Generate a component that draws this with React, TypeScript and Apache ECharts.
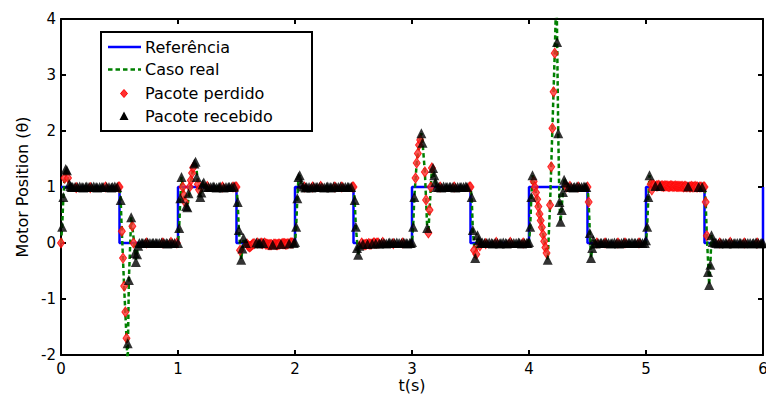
import React, { useEffect, useRef } from "react";
import * as echarts from "echarts";

// Reference (square wave), held until next change time
const refT = [0, 0.5, 1, 1.5, 2, 2.5, 3, 3.5, 4, 4.5, 5, 5.5, 6];
const refY = [1, 0, 1, 0, 1, 0, 1, 0, 1, 0, 1, 0, 1];

// Caso real (green dashed) breakpoints
const casoRealT = [
  0, 0.01, 0.02, 0.03, 0.04, 0.06, 0.08, 0.1, 0.5,
  0.51, 0.52, 0.54, 0.56, 0.57, 0.58, 0.6, 0.62, 0.64, 0.66, 0.68, 1.0,
  1.01, 1.02, 1.03, 1.05, 1.08, 1.1, 1.13, 1.15, 1.17, 1.19, 1.21, 1.23, 1.5,
  1.51, 1.52, 1.54, 1.56, 1.58, 2.0,
  2.01, 2.02, 2.03, 2.04, 2.06, 2.5,
  2.51, 2.52, 2.54, 2.56, 2.58, 3.0,
  3.01, 3.02, 3.04, 3.06, 3.08, 3.09, 3.11, 3.13, 3.14, 3.15, 3.17, 3.19, 3.21, 3.5,
  3.51, 3.52, 3.54, 3.56, 3.58, 4.0,
  4.01, 4.02, 4.03, 4.05, 4.1, 4.15, 4.16, 4.18, 4.2, 4.22, 4.235, 4.25, 4.26, 4.27, 4.29, 4.3, 4.32, 4.5,
  4.51, 4.52, 4.53, 4.55, 4.57, 5.0,
  5.01, 5.02, 5.03, 5.05, 5.07, 5.1, 5.5,
  5.51, 5.52, 5.54, 5.55, 5.56, 5.58, 6.0,
];
const casoRealY = [
  0, 0.3, 0.8, 1.15, 1.32, 1.15, 1.02, 1, 1,
  0.77, 0.2, -0.8, -1.7, -2.2, -0.66, 0.46, 0.1, -0.3, -0.05, 0, 0,
  0.27, 0.8, 1.18, 0.85, 0.64, 0.95, 1.35, 1.45, 1.1, 0.82, 1.05, 1, 1,
  0.73, 0.23, -0.3, 0.05, 0, 0,
  0.29, 0.8, 1.18, 1.21, 1, 1,
  0.77, 0.29, -0.21, 0.02, 0, 0,
  0.29, 0.82, 1.43, 1.75, 1.96, 1.8, 1.27, 0.27, 0.18, 0.59, 1.34, 1.2, 1, 1,
  0.82, 0.23, -0.27, 0.1, 0, 0,
  0.29, 0.82, 1.21, 1, 0.4, -0.18, -0.3, 0.68, 2.05, 3.39, 4.6, 1.96, 0.73, 0.38, 0.91, 1.13, 1, 1,
  0.73, 0.18, -0.27, 0.05, 0, 0,
  0.29, 0.82, 1.21, 0.95, 1.03, 1, 1,
  0.73, 0.13, -0.75, -0.39, 0.14, 0, 0,
];

// Packet samples every 0.01 s, one array per half second.
// estado: r = pacote recebido, p = pacote perdido, . = no marker
const amostras0 = [
  0, 0.29, 0.82, 1.16, 1.32, 1.3, 1.16, 1.05, 1.02, 1,
  1, 1.01, 1, 0.99, 1, 1, 1.01, 1, 1, 0.99,
  1, 1, 1.01, 1, 1, 0.99, 1, 1, 1.01, 1,
  1, 0.99, 1, 1, 1.01, 1, 1, 0.99, 1, 1,
  1.01, 1, 1, 0.99, 1, 1, 1.01, 1, 1, 1,
];
const estado0 = "prrprrprrr r.rpr.r.rr .rr.rpr.r. rr.r.rr.pr .r.rr.r.rp";
const amostras1 = [
  1, 0.77, 0.21, -0.27, -0.77, -1.23, -1.7, -1.79, -0.66, -0.1,
  0.46, 0.3, 0, -0.18, -0.34, -0.2, -0.05, 0, 0.01, 0,
  0, -0.01, 0, 0, 0.01, 0, 0, -0.01, 0, 0,
  0.01, 0, 0, -0.01, 0, 0, 0.01, 0, 0, 0,
  0, -0.01, 0, 0, 0.01, 0, 0, 0, -0.01, 0,
];
const estado1 = "prppppprr. rpprrrrr.r r.rpr.r.rr .rr.r.rpr. rr.rpr.r.p";
const amostras2 = [
  0, 0.27, 0.8, 1.18, 1, 0.85, 0.73, 0.66, 0.64, 0.89,
  1, 1.12, 1.25, 1.35, 1.42, 1.45, 1.18, 1.05, 0.95, 0.82,
  0.9, 1.05, 1.08, 1, 1, 1.01, 1, 0.99, 1, 1,
  1.01, 1, 1, 0.99, 1, 1, 1.01, 1, 1, 0.99,
  1, 1, 1.01, 1, 1, 0.99, 1, 1, 1.01, 1,
];
const estado2 = "rrrrppprrr pppprrrppr rrr.rpr.r. rr.r.rr.pr .r.rr.rprp";
const amostras3 = [
  1, 0.73, 0.23, -0.13, -0.3, -0.1, 0.09, 0.02, 0, -0.02,
  -0.05, -0.07, -0.06, -0.04, -0.02, -0.01, 0, 0.01, 0, -0.01,
  0, 0, -0.01, 0, 0, -0.02, -0.02, -0.03, -0.03, -0.03,
  -0.03, -0.03, -0.02, -0.02, -0.03, -0.03, -0.02, -0.02, -0.02, -0.01,
  -0.01, -0.01, -0.02, -0.02, -0.01, -0.01, 0, 0, 0, 0,
];
const estado3 = "prrprrr.rp pppppp.rpr rpprpppppp prpppppprp ppppprpppr";
const amostras4 = [
  0.02, 0.29, 0.8, 1.18, 1.21, 1.05, 1, 1.01, 1, 0.99,
  1, 1.01, 1, 1, 0.99, 1, 1.01, 1, 1, 1,
  0.99, 1, 1.01, 1, 1, 0.99, 1, 1, 1.01, 1,
  1, 0.99, 1, 1.01, 1, 1, 0.99, 1, 1, 1.01,
  1, 1, 0.99, 1, 1.01, 1, 1, 0.99, 1, 1,
];
const estado4 = "rrrrrr.rpr r.r.rpr.rr .rpr.r.rr. rr.rpr.r.r pr.r.rr.rp";
const amostras5 = [
  1, 0.77, 0.29, -0.09, -0.21, -0.05, 0.02, 0, -0.02, -0.03,
  -0.03, -0.02, -0.02, -0.01, -0.02, -0.02, -0.01, 0, 0, -0.01,
  0, 0, -0.01, 0, 0, 0.01, 0, 0, -0.01, 0,
  0, 0.01, 0, 0, -0.01, 0, 0, 0.01, 0, 0,
  -0.01, 0, 0, 0.01, 0, 0, -0.01, 0, 0, 0,
];
const estado5 = "prrrrr.prp pprppprppr ppr.rpr.r. rr.rpr.r.r .rpr.rr.rr";
const amostras6 = [
  0.02, 0.29, 0.82, 1.16, 1.43, 1.6, 1.75, 1.84, 1.96, 1.79,
  1.5, 1.27, 0.77, 0.27, 0.18, 0.59, 1, 1.34, 1.34, 1.21,
  1.09, 1, 1.01, 1, 1, 0.99, 1, 1.01, 1, 1,
  1, 0.99, 1, 1, 1.01, 1, 1, 0.99, 1, 1,
  1.01, 1, 1, 0.99, 1, 1, 1.01, 1, 1, 1,
];
const estado6 = "rrrppppprr .pprpppprr rr.rpr.r.r r.rr.rpr.r .rr.r.rr.p";
const amostras7 = [
  1, 0.82, 0.23, -0.13, -0.27, -0.2, 0.14, 0.05, -0.05, 0,
  0.01, 0, 0, -0.01, 0, 0, 0.01, 0, 0, -0.01,
  0, 0, 0.01, 0, 0, -0.01, 0, 0, 0.01, 0,
  0, -0.01, 0, 0, 0.01, 0, 0, 0, -0.01, 0,
  0, 0.01, 0, 0, -0.01, 0, 0, 0.01, 0, 0,
];
const estado7 = "prrprprrpr r.rpr.r.rr .rpr.rr.r. rr.rpr.r.r .rr.rpr.rr";
const amostras8 = [
  0.02, 0.29, 0.82, 1.21, 1.1, 1, 0.9, 0.78, 0.65, 0.52,
  0.4, 0.28, 0.15, 0.03, -0.08, -0.18, -0.3, 0.2, 0.68, 1.36,
  2.05, 2.7, 3.39, 4.4, 3.59, 1.96, 0.73, 0.38, 0.59, 0.91,
  1.13, 1.08, 1, 0.99, 1, 1.01, 1, 1, 0.99, 1,
  1, 1.01, 1, 1, 0.99, 1, 1, 1.01, 1, 1,
];
const estado8 = "rrrrpppppp ppppppr.pp ppp.rrrrrr rrp.rpr.rr .rpr.r.rrr";
const amostras9 = [
  1, 0.73, 0.18, -0.27, -0.09, 0.05, 0, -0.01, 0, 0,
  0.01, 0, 0, -0.01, 0, 0, 0.01, 0, 0, 0,
  -0.01, 0, 0, 0.01, 0, 0, 0, -0.01, 0, 0,
  0, 0.01, 0, 0, -0.01, 0, 0, 0, 0.01, 0,
  0, 0, -0.01, 0, 0, 0.01, 0, 0, 0, 0,
];
const estado9 = "pprrrr.rpr .rr.rpr.r. rr.r.rpr.r .rpr.rr.r. rr.rpr.r.r";
const amostras10 = [
  0.05, 0.29, 0.82, 1.21, 1.05, 0.95, 1.04, 1.03, 1.02, 1.02,
  1.02, 1.03, 1.02, 1.02, 1.02, 1.01, 1.02, 1.02, 1.02, 1.01,
  1.01, 1.02, 1.02, 1.01, 1.01, 1.02, 1.01, 1.01, 1.01, 1.01,
  1.01, 1.01, 1, 1.01, 1.01, 1, 1.01, 1, 1, 1.01,
  1, 1, 1.01, 1, 1, 1, 1, 1, 1, 1,
];
const estado10 = "rrrrpppprp pprppppppp pppppppppp pppppprppp ppppprpprp";
const amostras11 = [
  1, 0.73, 0.13, -0.52, -0.75, -0.39, 0.14, 0.02, 0, 0.01,
  0, 0, -0.01, 0, 0, 0.01, 0, 0, 0, -0.01,
  0, 0, 0.01, 0, 0, -0.01, 0, 0, 0, 0.01,
  0, 0, 0, -0.01, 0, 0, 0.01, 0, 0, 0,
  0, -0.01, 0, 0, 0.01, 0, 0, 0, -0.01, 0,
];
const estado11 = "ppprrrrr.r r.rpr.r.rr .rpr.rr.r. rr.rpr.r.r .rr.rpr.rr";
const amostraFinal = [6, 0];

const amostras = [amostras0, amostras1, amostras2, amostras3, amostras4, amostras5,
  amostras6, amostras7, amostras8, amostras9, amostras10, amostras11];
const estados = [estado0, estado1, estado2, estado3, estado4, estado5,
  estado6, estado7, estado8, estado9, estado10, estado11];

const xTicks = [0, 1, 2, 3, 4, 5, 6];
const yTicks = [-2, -1, 0, 1, 2, 3, 4];

const FONT = "DejaVu Sans";

function buildPackets() {
  const recebidos: number[][] = [];
  const perdidos: number[][] = [];
  amostras.forEach((vals, s) => {
    const st = estados[s].replace(/\s/g, "");
    vals.forEach((v, k) => {
      const t = Math.round(s * 50 + k) / 100;
      const c = st[k];
      if (c === "r") recebidos.push([t, v]);
      else if (c === "p") perdidos.push([t, v]);
    });
  });
  recebidos.push(amostraFinal);
  return { recebidos, perdidos };
}

export default function App() {
  const ref = useRef<HTMLDivElement>(null);
  useEffect(() => {
    if (!ref.current) return;
    const chart = echarts.init(ref.current, undefined, { renderer: "svg" });
    const { recebidos, perdidos } = buildPackets();
    const axisCommon = {
      axisLine: { show: true, onZero: false, lineStyle: { color: "#000", width: 2 } },
      axisTick: { show: true, inside: true, length: 5, lineStyle: { color: "#000", width: 2 } },
      splitLine: { show: false },
    };
    const legendRows = [47, 69.5, 93.5, 116];
    const legendLabels = ["Referência", "Caso real", "Pacote perdido", "Pacote recebido"];
    chart.setOption({
      animation: false,
      backgroundColor: "#fff",
      textStyle: { fontFamily: FONT },
      grid: { left: 61, right: 3, top: 19, bottom: 41, containLabel: false, outerBoundsMode: "none" },
      xAxis: [
        {
          type: "value", min: xTicks[0], max: xTicks[xTicks.length - 1], interval: 1,
          position: "bottom",
          name: "t(s)", nameLocation: "middle", nameGap: 22, nameMoveOverlap: false,
          nameTextStyle: { fontFamily: FONT, fontSize: 16, lineHeight: 17, color: "#000" },
          axisLabel: { show: true, margin: 6, fontFamily: FONT, fontSize: 15, color: "#000", showMaxLabel: true, showMinLabel: true },
          ...axisCommon,
        },
        {
          type: "value", min: xTicks[0], max: xTicks[xTicks.length - 1], interval: 1,
          position: "top",
          axisLabel: { show: false },
          ...axisCommon,
        },
      ],
      yAxis: [
        {
          type: "value", min: yTicks[0], max: yTicks[yTicks.length - 1], interval: 1,
          position: "left",
          name: "Motor Position (θ)", nameLocation: "middle", nameGap: 30, nameRotate: 90,
          nameTextStyle: { fontFamily: FONT, fontSize: 16, color: "#000" },
          axisLabel: { show: true, margin: 5, fontFamily: FONT, fontSize: 15, color: "#000" },
          ...axisCommon,
        },
        {
          type: "value", min: yTicks[0], max: yTicks[yTicks.length - 1], interval: 1,
          position: "right",
          axisLabel: { show: false },
          ...axisCommon,
        },
      ],
      series: [
        {
          type: "line", name: "Referência",
          data: refT.map((t, i) => [t, refY[i]]),
          step: "end", showSymbol: false, symbol: "none", clip: true,
          lineStyle: { color: "#0000ff", width: 2.5 }, z: 2,
        },
        {
          type: "line", name: "Caso real",
          data: casoRealT.map((t, i) => [t, casoRealY[i]]),
          showSymbol: false, symbol: "none", clip: true,
          lineStyle: { color: "#008000", width: 2.5, type: [4.5, 3] }, z: 3,
        },
        {
          type: "scatter", name: "Pacote perdido", data: perdidos,
          symbol: "diamond", symbolSize: [7, 10], clip: true,
          itemStyle: { color: "#ff3030", borderColor: "#ff0000", borderWidth: 1 }, z: 4,
        },
        {
          type: "scatter", name: "Pacote recebido", data: recebidos,
          symbol: "triangle", symbolSize: [10, 10], clip: true,
          itemStyle: { color: "#000" }, z: 5,
        },
      ],
      graphic: [
        {
          type: "group", z: 100,
          children: [
            { type: "rect", shape: { x: 101, y: 32, width: 211, height: 99 }, style: { fill: "#fff", stroke: "#000", lineWidth: 2 } },
            { type: "line", shape: { x1: 108, y1: legendRows[0], x2: 141, y2: legendRows[0] }, style: { stroke: "#0000ff", lineWidth: 2.5 } },
            { type: "line", shape: { x1: 108, y1: legendRows[1], x2: 141, y2: legendRows[1] }, style: { stroke: "#008000", lineWidth: 2.5, lineDash: [4.5, 3] } },
            { type: "polygon", shape: { points: [[124, legendRows[2] - 4], [127.5, legendRows[2]], [124, legendRows[2] + 4], [120.5, legendRows[2]]] }, style: { fill: "#ff3030", stroke: "#ff0000", lineWidth: 1 } },
            { type: "polygon", shape: { points: [[124, legendRows[3] - 4.5], [128.5, legendRows[3] + 4], [119.5, legendRows[3] + 4]] }, style: { fill: "#000" } },
            ...legendLabels.map((txt, i) => ({
              type: "text", x: 145, y: legendRows[i],
              style: { text: txt, fontFamily: FONT, fontSize: 16, fill: "#000", verticalAlign: "middle", textVerticalAlign: "middle", align: "left", textAlign: "left" },
            })),
          ],
        },
      ],
    });
    return () => chart.dispose();
  }, []);
  return (
    <div
      ref={ref}
      style={{ position: "fixed", left: 0, top: 0, width: 766, height: 396, background: "#fff" }}
    />
  );
}
